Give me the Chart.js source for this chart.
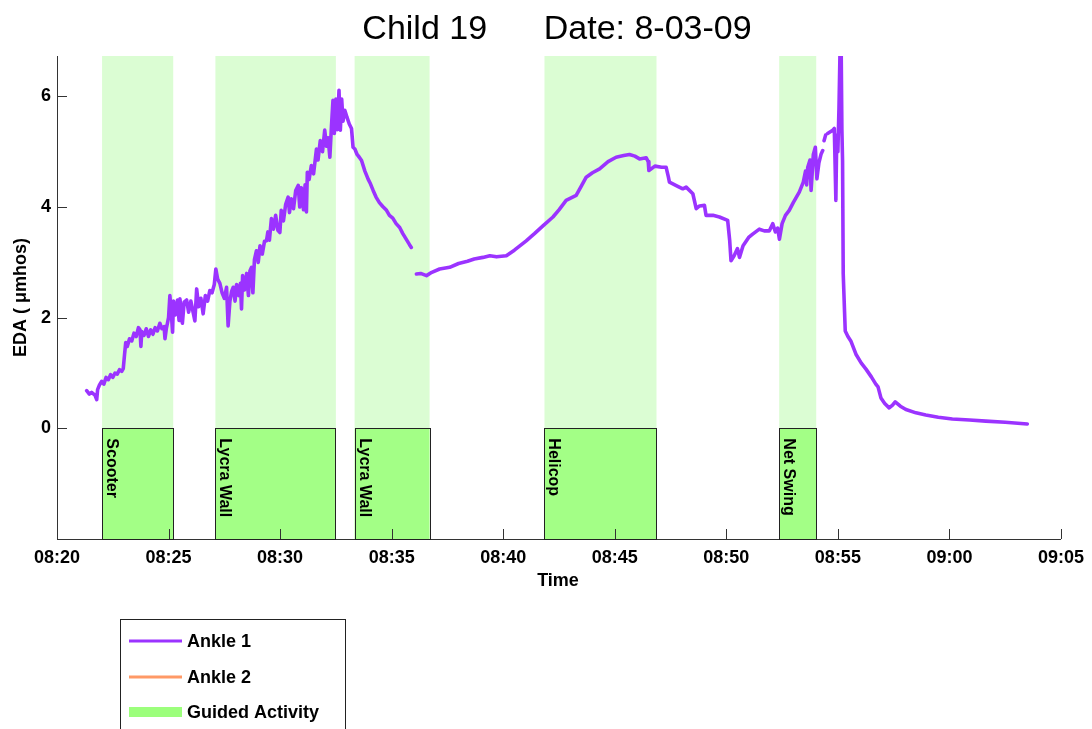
<!DOCTYPE html>
<html>
<head>
<meta charset="utf-8">
<script src="https://cdn.jsdelivr.net/npm/chart.js@4.4.1/dist/chart.umd.min.js"></script>
<style>
  html, body { margin: 0; padding: 0; background: #ffffff; }
  canvas { display: block; }
</style>
</head>
<body>
<canvas id="c" width="1092" height="729"></canvas>
<script>
// ---- Data (minutes after 08:20, EDA in µmhos) ----
const tickValues = [0, 5, 10, 15, 20, 25, 30, 35, 40, 45];
const tickLabels = ["08:20", "08:25", "08:30", "08:35", "08:40", "08:45", "08:50", "08:55", "09:00", "09:05"];
const yTickValues = [0, 2, 4, 6];

const ankle1Minutes = [
  1.33,1.45,1.55,1.70,1.78,1.82,1.90,2.00,2.10,2.20,2.30,2.40,2.50,2.60,2.70,2.80,2.90,2.97,3.02,3.08,
  3.15,3.25,3.35,3.45,3.55,3.65,3.72,3.76,3.80,3.90,4.00,4.10,4.20,4.30,4.40,4.50,4.61,4.70,4.80,4.84,
  4.90,5.00,5.06,5.12,5.18,5.22,5.30,5.40,5.47,5.51,5.58,5.62,5.70,5.81,5.90,6.00,6.10,6.18,6.26,6.35,
  6.45,6.55,6.65,6.75,6.85,6.95,7.05,7.12,7.20,7.30,7.40,7.50,7.60,7.67,7.75,7.83,7.90,7.98,8.05,8.15,
  8.22,8.27,8.32,8.40,8.50,8.58,8.65,8.72,8.78,8.85,8.94,9.02,9.10,9.20,9.30,9.39,9.45,9.52,9.61,9.70,
  9.80,9.90,9.99,10.05,10.15,10.25,10.36,10.42,10.50,10.60,10.70,10.81,10.88,10.95,11.05,11.12,11.18,11.22,11.30,11.40,
  11.50,11.63,11.70,11.80,11.90,12.00,12.08,12.15,12.23,12.30,12.37,12.43,12.50,12.56,12.64,12.70,12.76,12.82,12.90,13.00,
  13.10,13.20,13.27,13.35,13.45,13.55,13.65,13.80,13.95,14.05,14.17,14.30,14.45,14.60,14.77,14.90,15.05,15.20,15.36,15.50,
  15.65,15.80,15.88,16.00,
  16.11,16.30,16.56,16.80,17.15,17.60,18.00,18.40,18.70,19.09,19.40,19.70,20.14,20.50,21.03,21.40,21.78,22.23,22.50,22.82,
  23.27,23.50,23.72,24.00,24.32,24.70,25.06,25.40,25.66,25.90,26.11,26.41,26.50,26.53,26.80,27.10,27.30,27.40,27.45,27.80,
  28.05,28.20,28.50,28.65,28.80,29.02,29.09,29.40,29.69,30.06,30.15,30.21,30.35,30.50,30.59,30.75,31.00,31.18,31.48,31.70,
  31.93,32.08,32.20,32.30,32.38,32.50,32.65,32.82,33.00,33.27,33.45,33.55,33.60,33.65,33.75,33.80,33.90,33.99,34.06,34.15,
  34.25,34.32,34.35,34.38,34.45,34.50,
  34.54,34.77,34.84,34.91,34.95,35.00,35.05,35.10,35.14,35.18,35.21,35.24,35.30,35.33,35.45,35.58,35.81,36.05,36.26,36.50,
  36.70,36.80,36.93,37.10,37.30,37.45,37.57,37.80,38.05,38.50,38.94,39.50,40.13,40.90,41.63,42.50,43.49
];
const ankle1Eda = [
  0.68,0.62,0.65,0.60,0.52,0.70,0.78,0.85,0.80,0.92,0.88,0.97,0.92,1.00,0.98,1.06,1.03,1.08,1.30,1.55,
  1.48,1.62,1.58,1.72,1.66,1.82,1.78,1.48,1.75,1.68,1.80,1.66,1.78,1.70,1.82,1.76,1.90,1.80,1.84,1.62,
  1.80,2.00,2.40,2.10,1.74,2.30,2.05,2.32,1.95,2.34,2.10,1.90,2.28,2.32,2.10,2.30,2.10,1.94,2.52,2.20,
  2.35,2.07,2.40,2.30,2.49,2.45,2.60,2.88,2.70,2.62,2.45,2.35,2.55,1.85,2.30,2.48,2.55,2.30,2.60,2.40,
  2.62,2.16,2.76,2.50,2.80,2.40,2.85,2.91,2.45,3.05,3.21,3.00,3.30,3.15,3.38,3.39,3.55,3.40,3.79,3.60,
  3.85,3.58,3.54,3.94,3.75,4.05,4.18,3.90,4.15,3.97,4.30,4.39,4.00,4.35,3.95,4.40,3.91,4.63,4.50,4.75,
  4.60,5.05,4.85,5.20,5.00,5.39,5.10,5.25,4.90,5.45,5.93,5.33,5.95,5.40,6.11,5.39,5.95,5.55,5.75,5.62,
  5.50,5.42,5.08,5.05,4.95,4.90,4.84,4.65,4.50,4.42,4.30,4.18,4.08,4.01,3.94,3.85,3.80,3.70,3.63,3.52,
  3.42,3.32,3.27,null,
  2.79,2.80,2.76,2.82,2.88,2.91,2.98,3.02,3.06,3.09,3.12,3.10,3.12,3.22,3.39,3.52,3.66,3.82,3.95,4.12,
  4.21,4.38,4.54,4.62,4.69,4.82,4.90,4.93,4.95,4.92,4.87,4.89,4.82,4.66,4.74,4.72,4.72,4.55,4.45,4.38,
  4.33,4.36,4.24,3.97,4.02,4.03,3.85,3.85,3.82,3.76,3.40,3.03,3.12,3.25,3.09,3.30,3.45,3.51,3.60,3.57,
  3.57,3.70,3.55,3.62,3.42,3.70,3.85,3.94,4.08,4.27,4.45,4.65,4.40,4.72,4.85,4.30,4.95,5.08,4.51,4.80,
  4.96,5.02,null,5.20,5.30,null,
  5.33,5.39,5.42,4.12,5.30,5.00,5.80,6.90,7.20,5.40,4.84,2.79,2.10,1.76,1.66,1.58,1.34,1.18,1.07,0.93,
  0.80,0.75,0.55,0.45,0.37,0.42,0.48,0.40,0.34,0.28,0.24,0.20,0.17,0.15,0.13,0.11,0.08
];
const ankle2Minutes = [];
const ankle2Eda = [];

const activityNames = ["Scooter", "Lycra Wall", "Lycra Wall", "Helicop", "Net Swing"];
const activityStart = [2.02, 7.10, 13.34, 21.85, 32.37];
const activityEnd   = [5.21, 12.50, 16.70, 26.87, 34.03];

const seriesLabels = ["Ankle 1", "Ankle 2", "Guided Activity"];

// ---- Styles ----
const PURPLE = "#9b33ff";
const ORANGE = "#ff9966";
const GREEN_BOX = "#a3ff86";
const GREEN_BAND = "#dbfdd3";
const GREEN_LEGEND = "#9cff7c";
const FONT = "'Liberation Sans', Arial, Helvetica, sans-serif";

const toPoints = (xs, ys) => xs.map((x, i) => ({ x: x, y: ys[i] }));

const decorPlugin = {
  id: 'decor',
  beforeDatasetsDraw(chart) {
    const { ctx, chartArea, scales } = chart;
    const xs = scales.x, ys = scales.y;
    const y0 = ys.getPixelForValue(0);
    const yb = ys.getPixelForValue(ys.min);
    ctx.save();
    for (let i = 0; i < activityNames.length; i++) {
      const xl = xs.getPixelForValue(activityStart[i]);
      const xr = xs.getPixelForValue(activityEnd[i]);
      ctx.fillStyle = GREEN_BAND;
      ctx.fillRect(xl, chartArea.top, xr - xl, y0 - chartArea.top);
      ctx.fillStyle = GREEN_BOX;
      ctx.fillRect(xl, y0, xr - xl, yb - y0);
      ctx.strokeStyle = "#222";
      ctx.lineWidth = 1;
      ctx.strokeRect(Math.round(xl) + 0.5, Math.round(y0) + 0.5, Math.round(xr - xl), Math.round(yb - y0));
      ctx.save();
      ctx.translate(Math.round(xl) + 5, y0 + 10);
      ctx.rotate(Math.PI / 2);
      ctx.fillStyle = "#000";
      ctx.font = "bold 16px " + FONT;
      ctx.textAlign = "left";
      ctx.textBaseline = "alphabetic";
      ctx.fillText(activityNames[i], 0, 0);
      ctx.restore();
    }
    ctx.restore();
  },
  afterDraw(chart) {
    const { ctx, chartArea, scales } = chart;
    const xs = scales.x, ys = scales.y;
    ctx.save();
    // inward tick marks
    ctx.strokeStyle = "#333";
    ctx.lineWidth = 1;
    ctx.beginPath();
    tickValues.forEach(v => {
      const px = Math.round(xs.getPixelForValue(v)) + 0.5;
      ctx.moveTo(px, chartArea.bottom);
      ctx.lineTo(px, chartArea.bottom - 10);
    });
    yTickValues.forEach(v => {
      const py = Math.round(ys.getPixelForValue(v)) + 0.5;
      ctx.moveTo(chartArea.left, py);
      ctx.lineTo(chartArea.left + 10, py);
    });
    ctx.stroke();

    // title
    ctx.fillStyle = "#000";
    ctx.font = "34px " + FONT;
    ctx.textAlign = "center";
    ctx.textBaseline = "alphabetic";
    const cx = (chartArea.left + chartArea.right) / 2;
    ctx.fillText("Child 19      Date: 8-03-09", cx - 2, 39);

    // axis titles
    ctx.font = "bold 18px " + FONT;
    ctx.fillText("Time", cx - 1, 586);
    ctx.save();
    ctx.translate(26, (chartArea.top + chartArea.bottom) / 2);
    ctx.rotate(-Math.PI / 2);
    ctx.textAlign = "center";
    ctx.fillText("EDA ( \u03BCmhos)", 0, 0);
    ctx.restore();

    // legend
    const lx = 120, ly = 619;
    ctx.fillStyle = "#fff";
    ctx.fillRect(lx, ly, 225, 120);
    ctx.strokeStyle = "#222";
    ctx.lineWidth = 1;
    ctx.strokeRect(lx + 0.5, ly + 0.5, 225, 120);
    const rows = [641, 677, 712];
    const cols = [PURPLE, ORANGE, GREEN_LEGEND];
    const widths = [3, 3, 10];
    for (let i = 0; i < 3; i++) {
      ctx.strokeStyle = cols[i];
      ctx.lineWidth = widths[i];
      ctx.beginPath();
      ctx.moveTo(129, rows[i]);
      ctx.lineTo(182, rows[i]);
      ctx.stroke();
      ctx.fillStyle = "#000";
      ctx.font = "bold 18px " + FONT;
      ctx.textAlign = "left";
      ctx.textBaseline = "middle";
      ctx.fillText(seriesLabels[i], 187, rows[i] + 1);
    }
    ctx.restore();
  }
};

new Chart(document.getElementById('c').getContext('2d'), {
  type: 'line',
  data: {
    datasets: [
      { label: seriesLabels[0], data: toPoints(ankle1Minutes, ankle1Eda), borderColor: PURPLE, borderWidth: 3.6,
        pointRadius: 0, tension: 0, spanGaps: false, fill: false, borderJoinStyle: 'round', borderCapStyle: 'round' },
      { label: seriesLabels[1], data: toPoints(ankle2Minutes, ankle2Eda), borderColor: ORANGE, borderWidth: 3,
        pointRadius: 0, tension: 0, fill: false }
    ]
  },
  options: {
    responsive: false,
    animation: false,
    events: [],
    layout: { padding: { left: 0, top: 56, right: 30, bottom: 0 } },
    plugins: { legend: { display: false }, title: { display: false }, tooltip: { enabled: false } },
    scales: {
      x: {
        type: 'linear', min: 0, max: 45,
        afterBuildTicks: (s) => { s.ticks = tickValues.map(v => ({ value: v })); },
        afterFit: (s) => { s.height = 190; },
        ticks: {
          callback: (v) => tickLabels[tickValues.indexOf(v)],
          font: { family: FONT, size: 18, weight: 'bold' }, color: '#000', padding: 8, maxRotation: 0
        },
        grid: { display: false, drawTicks: false },
        border: { display: true, color: '#333', width: 1 }
      },
      y: {
        type: 'linear', min: -2, max: 6.73,
        afterBuildTicks: (s) => { s.ticks = yTickValues.map(v => ({ value: v })); },
        afterFit: (s) => { s.width = 57; },
        ticks: { font: { family: FONT, size: 18, weight: 'bold' }, color: '#000', padding: 6 },
        grid: { display: false, drawTicks: false },
        border: { display: true, color: '#333', width: 1 }
      }
    }
  },
  plugins: [decorPlugin]
});
</script>
</body>
</html>
